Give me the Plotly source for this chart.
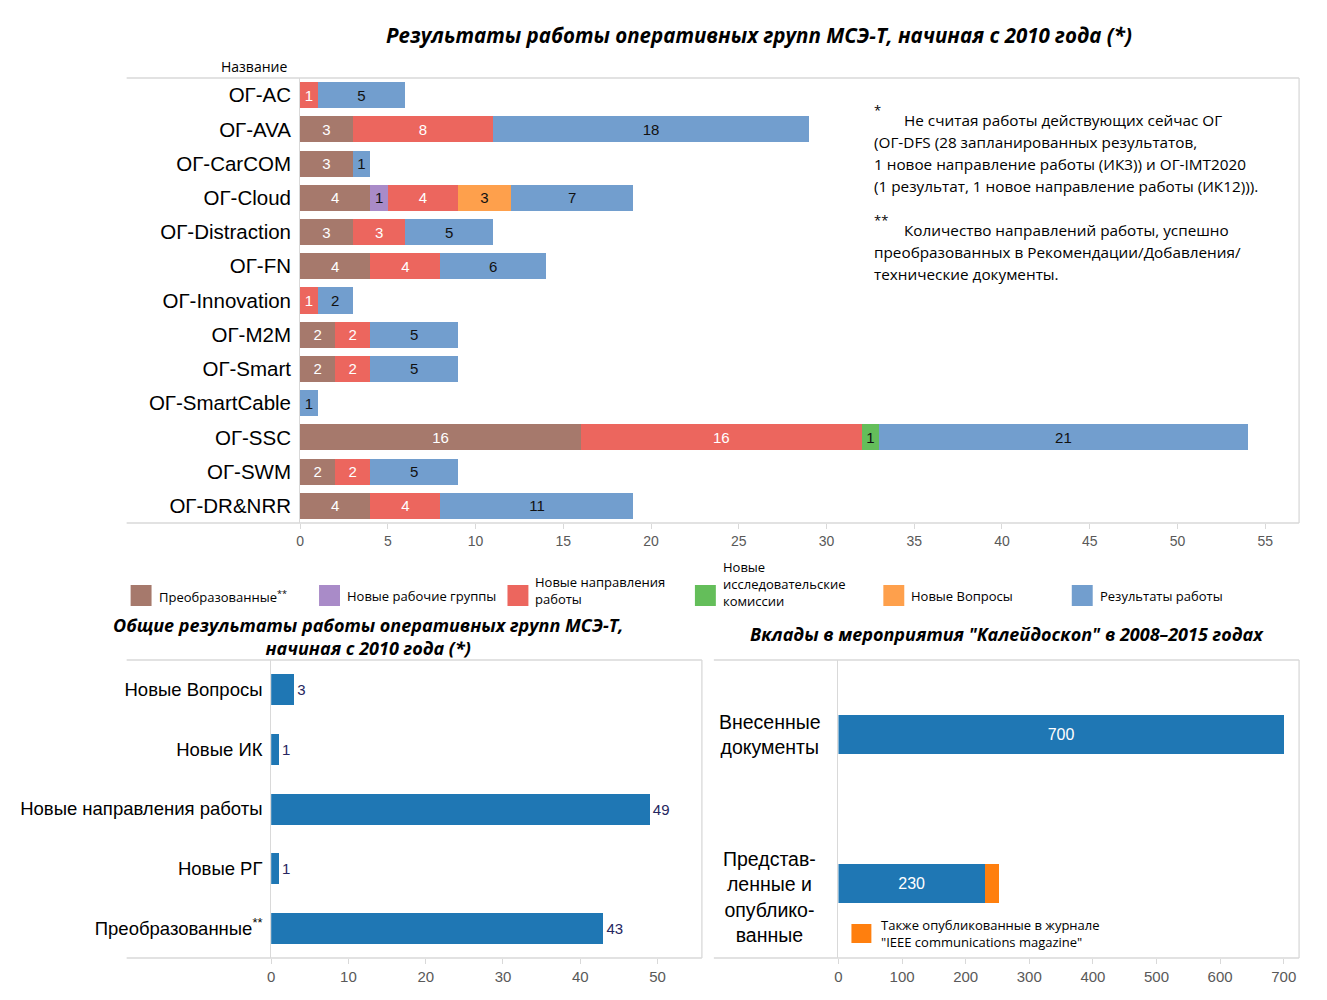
import plotly.graph_objects as go

W, H = 1327, 1000

# ---------------- data ----------------
groups = ["ОГ-AC", "ОГ-AVA", "ОГ-CarCOM", "ОГ-Cloud", "ОГ-Distraction", "ОГ-FN",
          "ОГ-Innovation", "ОГ-M2M", "ОГ-Smart", "ОГ-SmartCable", "ОГ-SSC",
          "ОГ-SWM", "ОГ-DR&NRR"]
transformed = [None, 3, 3, 4, 3, 4, None, 2, 2, None, 16, 2, 4]
new_wgs = [None, None, None, 1, None, None, None, None, None, None, None, None, None]
new_work_items = [1, 8, None, 4, 3, 4, 1, 2, 2, None, 16, 2, 4]
new_sgs = [None, None, None, None, None, None, None, None, None, None, 1, None, None]
new_questions = [None, None, None, 3, None, None, None, None, None, None, None, None, None]
deliverables = [5, 18, 1, 7, 5, 6, 2, 5, 5, 1, 21, 5, 11]

series_names = ["Преобразованные<sup>**</sup>", "Новые рабочие группы",
                "Новые направления<br>работы", "Новые<br>исследовательские<br>комиссии",
                "Новые Вопросы", "Результаты работы"]
series_values = [transformed, new_wgs, new_work_items, new_sgs, new_questions, deliverables]
series_colors = ["#A6796C", "#A98BC8", "#EC665E", "#64BE5A", "#FEA04C", "#729ECE"]
text_colors = ["white", "#111111", "white", "#111111", "#111111", "#111111"]
top_ticks = [0, 5, 10, 15, 20, 25, 30, 35, 40, 45, 50, 55]

total_cats = ["Новые Вопросы", "Новые ИК", "Новые направления работы", "Новые РГ", "Преобразованные"]
total_labels = ["Новые Вопросы", "Новые ИК", "Новые направления работы", "Новые РГ",
                "Преобразованные<sup>**</sup>"]
total_vals = [3, 1, 49, 1, 43]
total_ticks = [0, 10, 20, 30, 40, 50]

kal_cats = ["Внесенные документы", "Представленные и опубликованные"]
kal_labels = ["Внесенные<br>документы", "Представ-<br>ленные и<br>опублико-<br>ванные"]
kal_label_shift = [0, -13]
kal_vals = [700, 230]
kal_ieee = [None, 22]
kal_ticks = [0, 100, 200, 300, 400, 500, 600, 700]

notes_1 = ["Не считая работы действующих сейчас ОГ",
           "(ОГ-DFS (28 запланированных результатов,",
           "1 новое направление работы (ИК3)) и ОГ-IMT2020",
           "(1 результат, 1 новое направление работы (ИК12)))."]
notes_2 = ["Количество направлений работы, успешно",
           "преобразованных в Рекомендации/Добавления/",
           "технические документы."]

# ---------------- helpers ----------------
def X(px):
    return px / W

def Y(py):
    return 1 - py / H

GRID = "#D9D9D9"
TICKC = "#595959"
LABF = "Liberation Sans, Arial, sans-serif"
NOTEF = "Open Sans, Noto Sans, sans-serif"

fig = go.Figure()

# ---------------- top chart ----------------
for name, vals, col, tcol in zip(series_names, series_values, series_colors, text_colors):
    fig.add_trace(go.Bar(
        y=groups, x=vals, orientation="h", name=name,
        marker=dict(color=col, line=dict(width=0)),
        texttemplate="%{x}",
        textposition="inside", insidetextanchor="middle", textangle=0,
        constraintext="none",
        textfont=dict(color=tcol, size=15, family=LABF),
        xaxis="x", yaxis="y", showlegend=False, hoverinfo="x+y+name"))

# ---------------- bottom-left chart ----------------
fig.add_trace(go.Bar(
    y=total_cats, x=total_vals, orientation="h", width=0.52,
    marker=dict(color="#1F77B4", line=dict(width=0)),
    texttemplate="%{x}", textposition="outside", constraintext="none",
    textfont=dict(color="#262660", size=15, family=LABF),
    xaxis="x2", yaxis="y2", showlegend=False, cliponaxis=False))

# ---------------- bottom-right chart ----------------
fig.add_trace(go.Bar(
    y=kal_cats, x=kal_vals, orientation="h", width=0.26,
    marker=dict(color="#1F77B4", line=dict(width=0)),
    texttemplate="%{x}", textposition="inside", insidetextanchor="middle",
    textangle=0, constraintext="none",
    textfont=dict(color="white", size=16, family=LABF),
    xaxis="x3", yaxis="y3", showlegend=False))
fig.add_trace(go.Bar(
    y=kal_cats, x=kal_ieee, orientation="h", width=0.26,
    marker=dict(color="#FF7F0E", line=dict(width=0)),
    xaxis="x3", yaxis="y3", showlegend=False))

axis_common = dict(showgrid=False, zeroline=False, fixedrange=True)

fig.update_layout(
    width=W, height=H, margin=dict(l=0, r=0, t=0, b=0),
    paper_bgcolor="white", plot_bgcolor="white",
    barmode="stack",
    xaxis=dict(domain=[X(297), X(1299)], range=[0, (1299 - 297) / 17.6], anchor="y",
               tickmode="array", tickvals=top_ticks, ticks="outside", ticklen=5,
               tickcolor=GRID, showline=False,
               tickfont=dict(size=14, color=TICKC, family=LABF), **axis_common),
    yaxis=dict(domain=[Y(523), Y(78)], anchor="x", type="category",
               categoryorder="array", categoryarray=groups, autorange="reversed",
               showline=True, linecolor=GRID, linewidth=1, ticks="",
               ticklabelstandoff=4,
               tickfont=dict(size=20.5, color="black", family=LABF), **axis_common),
    xaxis2=dict(domain=[X(268), X(700)], range=[0, (700 - 268) / 7.75], anchor="y2",
                tickmode="array", tickvals=total_ticks, ticks="outside", ticklen=5,
                tickcolor=GRID, showline=False,
                tickfont=dict(size=15, color=TICKC, family=LABF), **axis_common),
    yaxis2=dict(domain=[Y(958), Y(660)], anchor="x2", type="category",
                categoryorder="array", categoryarray=total_cats, autorange="reversed",
                tickmode="array", tickvals=total_cats, ticktext=total_labels,
                showline=True, linecolor=GRID, linewidth=1, ticks="",
                ticklabelstandoff=4,
                tickfont=dict(size=18.5, color="black", family=LABF), **axis_common),
    xaxis3=dict(domain=[X(837), X(1299)], range=[0, (1299 - 837) / 0.638], anchor="y3",
                tickmode="array", tickvals=kal_ticks, ticks="outside", ticklen=5,
                tickcolor=GRID, showline=False,
                tickfont=dict(size=15, color=TICKC, family=LABF), **axis_common),
    yaxis3=dict(domain=[Y(958), Y(660)], anchor="x3", type="category",
                categoryorder="array", categoryarray=kal_cats, autorange="reversed",
                showticklabels=False, showline=True, linecolor=GRID, linewidth=1,
                ticks="", **axis_common),
    bargap=0.24,
)

shapes = []
def hline(x0, x1, y):
    shapes.append(dict(type="line", xref="paper", yref="paper", x0=X(x0), x1=X(x1),
                       y0=Y(y), y1=Y(y), line=dict(color=GRID, width=1.3)))
def vline(x, y0, y1):
    shapes.append(dict(type="line", xref="paper", yref="paper", x0=X(x), x1=X(x),
                       y0=Y(y0), y1=Y(y1), line=dict(color=GRID, width=1.3)))

# frames
hline(123, 1299, 78); hline(123, 1299, 523); vline(1299, 78, 523)
hline(123, 700, 660); hline(123, 700, 958); vline(700, 660, 958)
hline(712, 1299, 660); hline(712, 1299, 958); vline(1299, 660, 958)

annotations = []
def text(x, y, s, size, xanchor="left", yanchor="middle", color="black", family=NOTEF,
         align="left"):
    annotations.append(dict(xref="paper", yref="paper", x=X(x), y=Y(y), text=s,
                            showarrow=False, xanchor=xanchor, yanchor=yanchor,
                            align=align, font=dict(size=size, color=color, family=family)))

# titles
text(757, 35, "<b><i>Результаты работы оперативных групп МСЭ-Т, начиная с 2010 года (*)</i></b>",
     20.5, xanchor="center")
text(365, 636, "<b><i>Общие результаты работы оперативных групп МСЭ-Т,<br>начиная с 2010 года (*)</i></b>",
     18, xanchor="center", align="center")
text(1006, 634, "<b><i>Вклады в мероприятия \"Калейдоскоп\" в 2008–2015 годах</i></b>",
     18, xanchor="center")
text(251, 66, "Название", 14, xanchor="center")

# notes
text(871, 110, "*", 13)
text(901, 120, notes_1[0], 15.3)
for i, s in enumerate(notes_1[1:]):
    text(871, 142 + 22 * i, s, 15.3)
text(871, 220, "**", 13)
text(901, 230, notes_2[0], 15.3)
for i, s in enumerate(notes_2[1:]):
    text(871, 252 + 22 * i, s, 15.3)

# top legend
leg_x = [127, 316, 505, 693, 882, 1071]
leg_y = [596, 596, 590, 584, 596, 596]
for lx, ly, name, col in zip(leg_x, leg_y, series_names, series_colors):
    shapes.append(dict(type="rect", xref="paper", yref="paper", x0=X(lx), x1=X(lx + 21),
                       y0=Y(606), y1=Y(585), fillcolor=col, line=dict(width=0)))
    text(lx + 26, ly, name, 13)

# bottom-right category labels (centered, multi-line)
for cat, lab, ysh in zip(kal_cats, kal_labels, kal_label_shift):
    annotations.append(dict(xref="paper", yref="y3", x=X(768), y=cat, text=lab,
                            showarrow=False, xanchor="center", yanchor="middle",
                            yshift=ysh, align="center",
                            font=dict(size=19.5, color="black", family=LABF)))
# IEEE legend
shapes.append(dict(type="rect", xref="paper", yref="paper", x0=X(850), x1=X(870),
                   y0=Y(943), y1=Y(924), fillcolor="#FF7F0E", line=dict(width=0)))
text(878, 933, "Также опубликованные в журнале<br>\"IEEE communications magazine\"", 13)

fig.update_layout(shapes=shapes, annotations=annotations)
fig.write_html("out.html", config={"displayModeBar": False},
               post_script="document.body.style.margin='0px';")
